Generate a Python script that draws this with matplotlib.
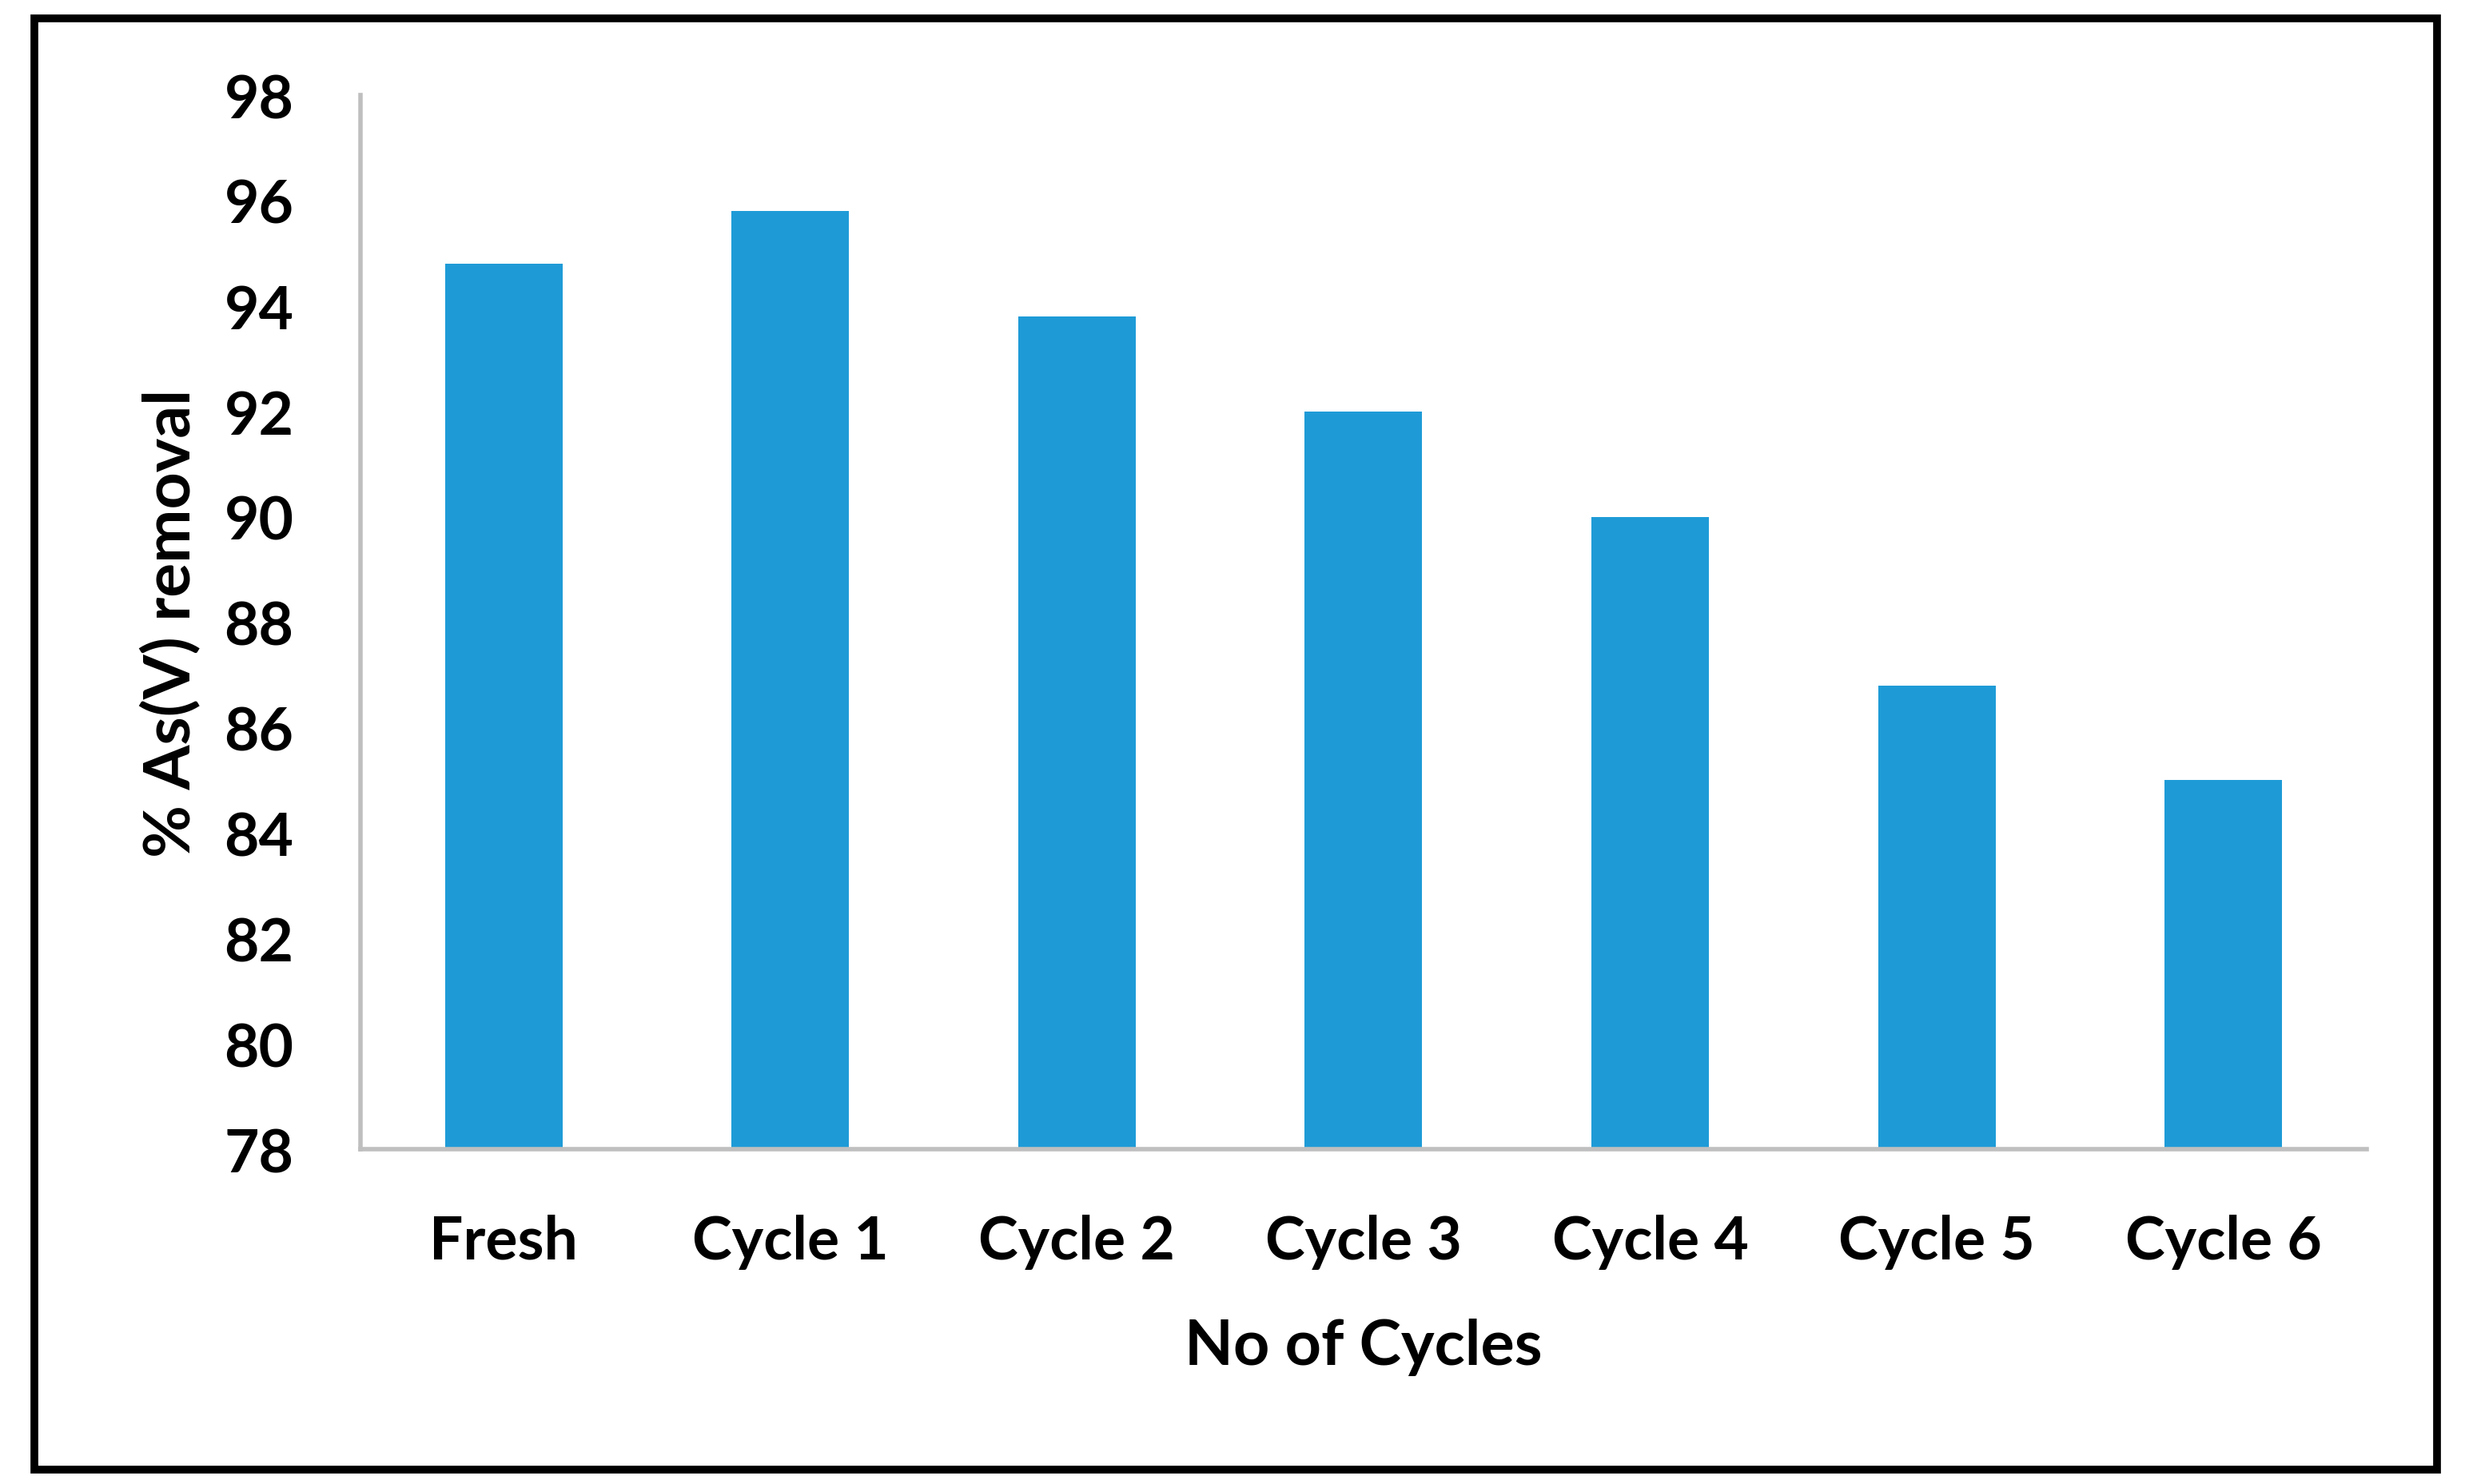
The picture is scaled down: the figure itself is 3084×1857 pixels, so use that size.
import matplotlib
matplotlib.use("Agg")
import matplotlib.pyplot as plt
from matplotlib.patches import Rectangle

# data
cycles = ["Fresh", "Cycle 1", "Cycle 2", "Cycle 3", "Cycle 4", "Cycle 5", "Cycle 6"]
removal = [94.8, 95.8, 93.8, 92.0, 90.0, 86.8, 85.0]
yticks = [78, 80, 82, 84, 86, 88, 90, 92, 94, 96, 98]

plt.rcParams["font.family"] = ["Lato", "DejaVu Sans"]
plt.rcParams["font.weight"] = "bold"

fig = plt.figure(figsize=(15.42, 9.29), dpi=200)
ax = fig.add_axes([0.1462, 0.2255, 0.8139, 0.7099])

ax.bar(range(len(cycles)), removal, width=0.41, color="#1E9BD7", zorder=2)
ax.set_xlim(-0.5, len(cycles) - 0.5)
ax.set_ylim(78, 98)
ax.set_yticks(yticks)
ax.set_xticks(range(len(cycles)))
ax.set_xticklabels(cycles)

for s in ["top", "right"]:
    ax.spines[s].set_visible(False)
for s in ["left", "bottom"]:
    ax.spines[s].set_color("#BFBFBF")
    ax.spines[s].set_linewidth(2.0)

ax.tick_params(axis="both", length=0, labelsize=27)
ax.tick_params(axis="y", pad=30)
ax.tick_params(axis="x", pad=29)
for lab in ax.get_xticklabels() + ax.get_yticklabels():
    lab.set_fontweight("bold")

ax.set_xlabel("No of Cycles", fontsize=28.5, fontweight="bold", labelpad=22)
ax.set_ylabel("% As(V) removal", fontsize=29, fontweight="bold", labelpad=10)

# black frame around the whole picture
fig.patches.append(Rectangle((0.014, 0.0096), 0.9747, 0.9774, transform=fig.transFigure,
                             fill=False, edgecolor="black", linewidth=3.5))

fig.savefig("out.png", dpi=200)
